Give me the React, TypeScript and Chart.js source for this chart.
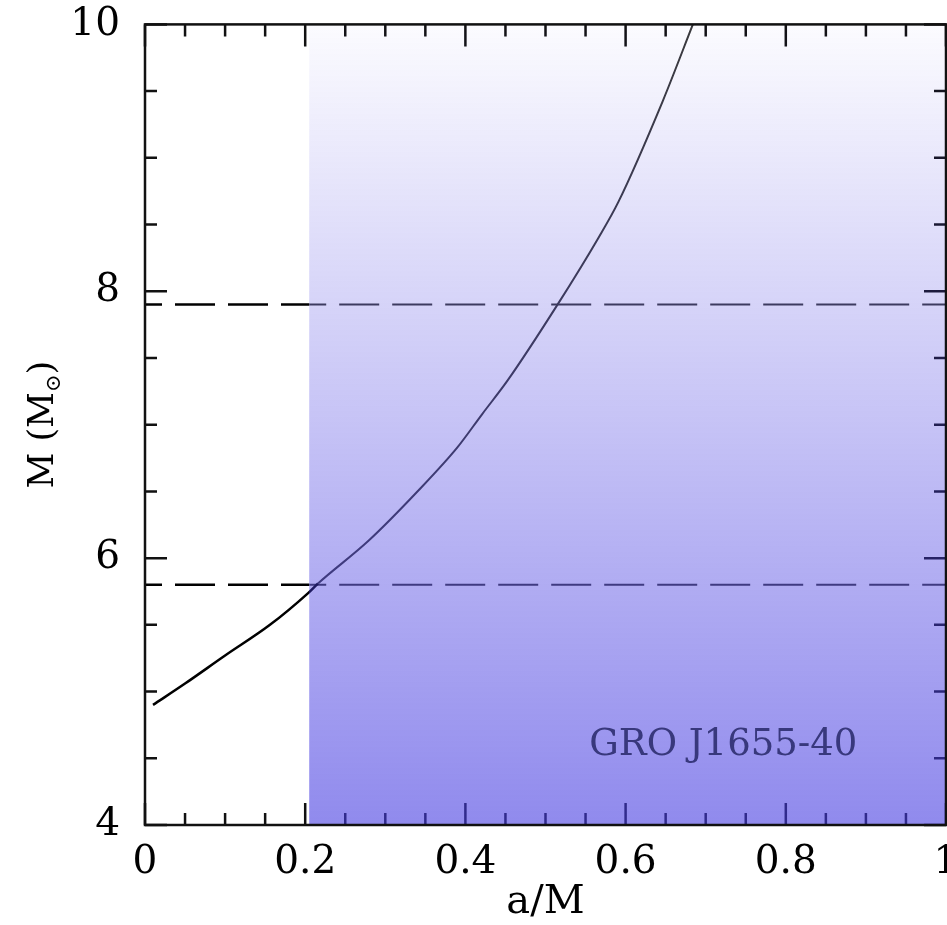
import { useEffect, useRef } from "react";
import { Chart, registerables } from "chart.js";

Chart.register(...registerables);

// ---- data ----
const curveSpin = [0.01, 0.05, 0.1, 0.156, 0.204, 0.216, 0.279, 0.341, 0.39, 0.421, 0.4525, 0.515, 0.566, 0.591, 0.646, 0.684];
const curveMass = [4.9, 5.06, 5.27, 5.5, 5.74, 5.81, 6.13, 6.505, 6.83, 7.08, 7.33, 7.9, 8.4, 8.67, 9.42, 10.0];
const massUpper = 7.9;
const massLower = 5.8;
const spinLimit = 0.205;
const xMajorTicks = [0, 0.2, 0.4, 0.6, 0.8, 1];
const xMinorTicks = [0.05, 0.1, 0.15, 0.25, 0.3, 0.35, 0.45, 0.5, 0.55, 0.65, 0.7, 0.75, 0.85, 0.9, 0.95];
const yMajorTicks = [4, 6, 8, 10];
const yMinorTicks = [4.5, 5, 5.5, 6.5, 7, 7.5, 8.5, 9, 9.5];
const sourceLabel = "GRO J1655-40";
const xTitle = "a/M";

const FONT = "'DejaVu Serif', serif";

const insideSeg = (ctx: any) => ctx.p0.parsed.x >= spinLimit - 1e-6;

const decorPlugin = {
  id: "decor",
  afterDatasetsDraw(chart: any) {
    const { ctx, chartArea: a, scales } = chart;
    const xs = scales.x;
    const ys = scales.y;
    ctx.save();
    // inward ticks on all four sides
    ctx.strokeStyle = "#111";
    ctx.lineWidth = 2.5;
    ctx.beginPath();
    const xt = (vals: number[], len: number) => {
      vals.forEach((v) => {
        const px = xs.getPixelForValue(v);
        ctx.moveTo(px, a.bottom);
        ctx.lineTo(px, a.bottom - len);
        ctx.moveTo(px, a.top);
        ctx.lineTo(px, a.top + len);
      });
    };
    const yt = (vals: number[], len: number) => {
      vals.forEach((v) => {
        const py = ys.getPixelForValue(v);
        ctx.moveTo(a.left, py);
        ctx.lineTo(a.left + len, py);
        ctx.moveTo(a.right, py);
        ctx.lineTo(a.right - len, py);
      });
    };
    xt(xMajorTicks, 22);
    xt(xMinorTicks, 12);
    yt(yMajorTicks, 22);
    yt(yMinorTicks, 12);
    ctx.stroke();

    // translucent shaded overlay
    const sx = xs.getPixelForValue(spinLimit);
    const g = ctx.createLinearGradient(0, a.top, 0, a.bottom);
    g.addColorStop(0, "rgba(70,60,225,0.02)");
    g.addColorStop(1, "rgba(70,60,225,0.6)");
    ctx.fillStyle = g;
    ctx.fillRect(sx, a.top, a.right - sx, a.bottom - a.top);

    // frame
    ctx.strokeStyle = "#111";
    ctx.lineWidth = 2.5;
    ctx.strokeRect(a.left, a.top, a.right - a.left, a.bottom - a.top);

    // label
    ctx.fillStyle = "#38387c";
    ctx.font = `37px ${FONT}`;
    ctx.textAlign = "center";
    ctx.textBaseline = "middle";
    ctx.fillText(sourceLabel, xs.getPixelForValue(0.722), ys.getPixelForValue(4.6));

    // x title
    ctx.fillStyle = "#000";
    ctx.font = `40px ${FONT}`;
    ctx.fillText(xTitle, (a.left + a.right) / 2, a.bottom + 78);

    // y title  M (M⊙)
    ctx.translate(40, (a.top + a.bottom) / 2);
    ctx.rotate(-Math.PI / 2);
    ctx.textAlign = "left";
    ctx.textBaseline = "alphabetic";
    const big = `35px ${FONT}`;
    const small = `21px ${FONT}`;
    ctx.font = big;
    const w1 = ctx.measureText("M (M").width;
    const w3 = ctx.measureText(")").width;
    ctx.font = small;
    const w2 = ctx.measureText("⊙").width;
    const total = w1 + w2 + w3;
    let x0 = -total / 2;
    const base = 13;
    ctx.font = big;
    ctx.fillText("M (M", x0, base);
    x0 += w1;
    ctx.font = small;
    ctx.fillText("⊙", x0, base + 7);
    x0 += w2;
    ctx.font = big;
    ctx.fillText(")", x0, base);
    ctx.restore();
  },
};

export default function App() {
  const ref = useRef<HTMLCanvasElement>(null);
  useEffect(() => {
    if (!ref.current) return;
    const curve = curveSpin.map((x, i) => ({ x, y: curveMass[i] }));
    const hLine = (m: number) => [
      { x: 0, y: m },
      { x: spinLimit, y: m },
      { x: 1, y: m },
    ];
    const chart = new Chart(ref.current, {
      type: "scatter",
      data: {
        datasets: [
          {
            data: curve,
            showLine: true,
            borderColor: "#000",
            borderWidth: 2.5,
            pointRadius: 0,
            cubicInterpolationMode: "monotone",
            segment: {
              borderWidth: (c: any) => (insideSeg(c) ? 2 : 2.5),
              borderColor: (c: any) => (insideSeg(c) ? "#3a3a3a" : "#000"),
            },
          },
          ...[massUpper, massLower].map((m) => ({
            data: hLine(m),
            showLine: true,
            borderColor: "#000",
            borderWidth: 2.5,
            borderDash: [40, 13],
            borderDashOffset: 23,
            pointRadius: 0,
            segment: {
              borderWidth: (c: any) => (insideSeg(c) ? 2 : 2.5),
              borderColor: (c: any) => (insideSeg(c) ? "#3a3a3a" : "#000"),
            },
          })),
        ],
      } as any,
      options: {
        animation: false,
        responsive: false,
        devicePixelRatio: 1,
        layout: { autoPadding: false, padding: { top: 23, right: 54, left: 0, bottom: 0 } },
        plugins: { legend: { display: false }, tooltip: { enabled: false } },
        scales: {
          x: {
            type: "linear",
            min: 0,
            max: 1,
            grid: { display: false, drawTicks: false },
            border: { display: false },
            ticks: {
              stepSize: 0.2,
              padding: 14,
              color: "#000",
              font: { family: FONT, size: 39 },
              callback: (v: any) => String(Math.round(Number(v) * 10) / 10),
            },
            afterFit: (s: any) => {
              s.height = 100;
            },
          },
          y: {
            type: "linear",
            min: 4,
            max: 10,
            grid: { display: false, drawTicks: false },
            border: { display: false },
            ticks: {
              stepSize: 2,
              padding: 25,
              color: "#000",
              font: { family: FONT, size: 39 },
            },
            afterFit: (s: any) => {
              s.width = 145;
            },
          },
        },
      } as any,
      plugins: [decorPlugin],
    });
    return () => chart.destroy();
  }, []);
  return (
    <div style={{ position: "absolute", left: 0, top: 0, width: 947, height: 925, overflow: "hidden", background: "#fff" }}>
      <canvas
        ref={ref}
        width={1000}
        height={949}
        style={{ display: "block", width: 1000, height: 949, marginTop: -24 }}
      />
    </div>
  );
}
